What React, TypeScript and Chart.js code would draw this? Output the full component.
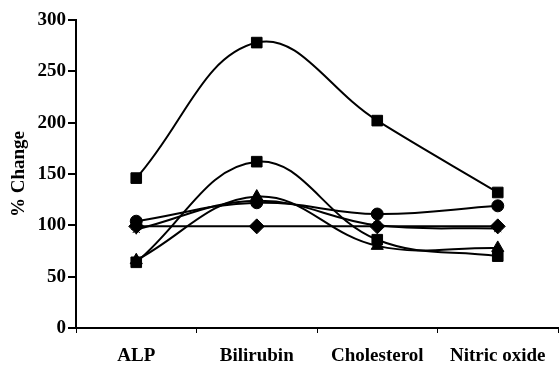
import React, { useEffect, useRef } from "react";
import { Chart, registerables } from "chart.js";

Chart.register(...registerables);

const categories = ["ALP", "Bilirubin", "Cholesterol", "Nitric oxide"];
const seriesA = [146, 278, 202, 132]; // square (top)
const seriesB = [64, 162, 86, 70]; // square (lower)
const seriesC = [66, 128, 80, 78]; // triangle
const seriesD = [104, 122, 111, 119]; // circle
const seriesE = [99, 99, 99, 99]; // diamond
const seriesF = [96, 124, 100, 97]; // star
const yTicks = [0, 50, 100, 150, 200, 250, 300];

const FONT = "'Liberation Serif', 'Times New Roman', serif";

export default function App() {
  const ref = useRef<HTMLCanvasElement | null>(null);
  useEffect(() => {
    document.body.style.margin = "0";
    const ctx = ref.current!;
    const mk = (data: number[], style: string, r: number) => ({
      data,
      borderColor: "#000",
      backgroundColor: "#000",
      borderWidth: 2,
      pointStyle: style,
      pointRadius: r,
      pointBorderWidth: 1,
      tension: 0.4,
      fill: false,
    });
    const chart = new Chart(ctx, {
      type: "line",
      data: {
        labels: categories,
        datasets: [
          mk(seriesE, "rectRot", 7.5),
          mk(seriesF, "star", 5),
          mk(seriesD, "circle", 6),
          mk(seriesC, "triangle", 7),
          mk(seriesB, "rect", 7.5),
          mk(seriesA, "rect", 7.5),
        ] as any,
      },
      options: {
        animation: false,
        responsive: false,
        maintainAspectRatio: false,
        layout: { autoPadding: false, padding: { left: 0, top: 20, right: 2, bottom: 0 } },
        plugins: { legend: { display: false }, tooltip: { enabled: false } },
        scales: {
          x: {
            type: "category",
            offset: true,
            grid: {
              display: true,
              offset: true,
              drawOnChartArea: false,
              drawTicks: true,
              tickLength: 5,
              color: "#000",
              lineWidth: 1,
            },
            border: { display: true, color: "#000", width: 2 },
            ticks: {
              color: "#000",
              font: { family: FONT, size: 19, weight: "bold" },
              padding: 12,
              maxRotation: 0,
              autoSkip: false,
            },
            afterFit: (s: any) => {
              s.height = 39;
            },
          },
          y: {
            min: 0,
            max: 300,
            afterBuildTicks: (s: any) => {
              s.ticks = yTicks.map((v) => ({ value: v }));
            },
            grid: {
              display: true,
              drawOnChartArea: false,
              drawTicks: true,
              tickLength: 8,
              color: "#000",
              lineWidth: 2,
            },
            border: { display: true, color: "#000", width: 2 },
            ticks: {
              color: "#000",
              font: { family: FONT, size: 19, weight: "bold" },
              padding: 2,
            },
            title: {
              display: true,
              text: "% Change",
              color: "#000",
              font: { family: FONT, size: 19, weight: "bold" },
              padding: { top: 8, bottom: 0 },
            },
            afterFit: (s: any) => {
              s.width = 76;
            },
          },
        },
      },
    });
    return () => chart.destroy();
  }, []);
  return (
    <div style={{ position: "absolute", left: 0, top: 0, width: 560, height: 367, background: "#fff" }}>
      <canvas ref={ref} width={560} height={367} style={{ width: 560, height: 367 }} />
    </div>
  );
}
